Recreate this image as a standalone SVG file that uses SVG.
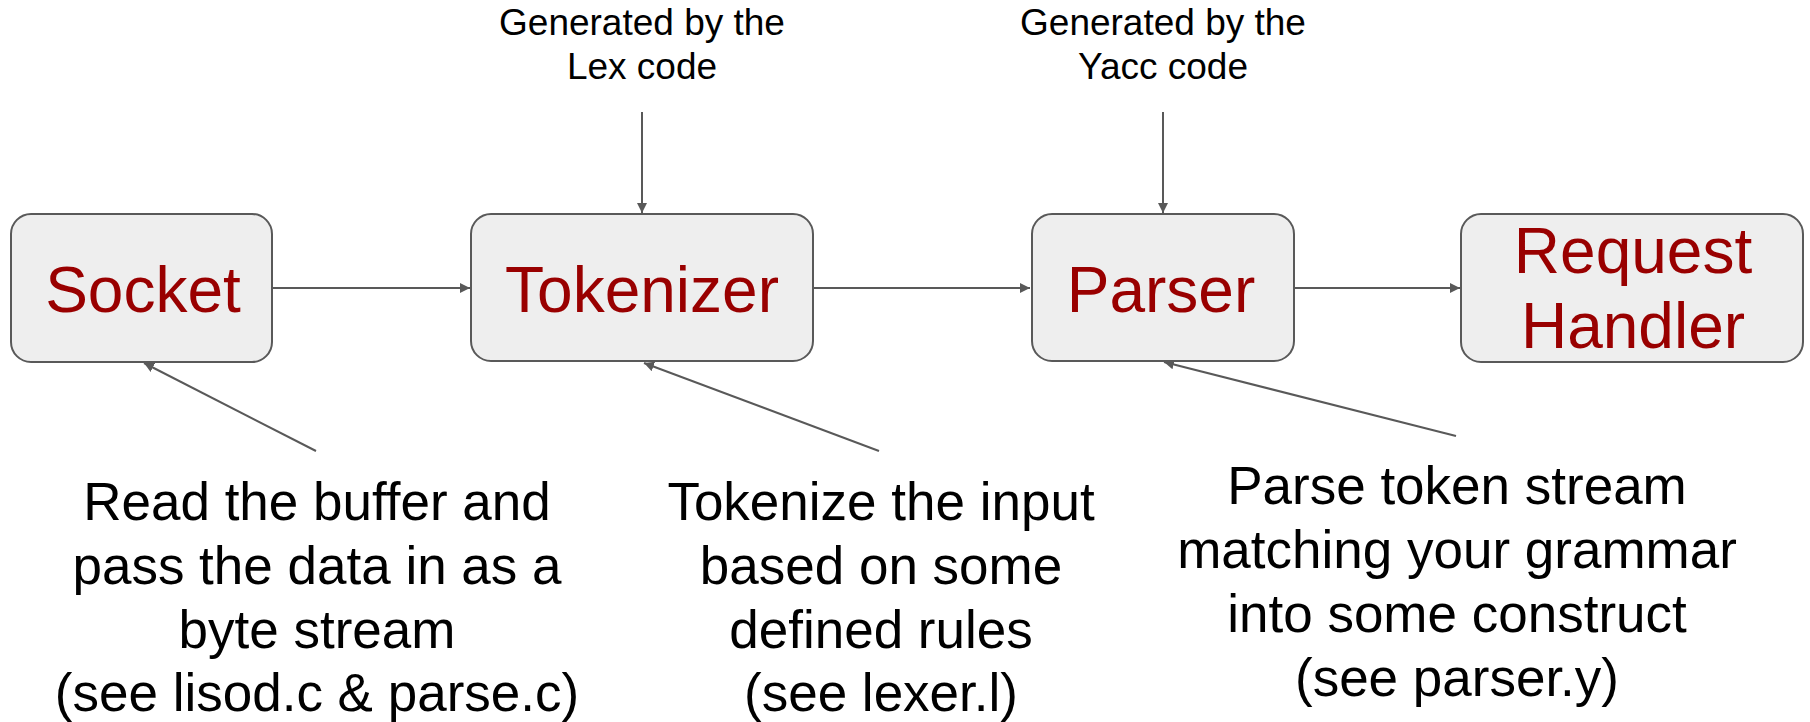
<svg xmlns="http://www.w3.org/2000/svg" width="1810" height="722" viewBox="0 0 1810 722">
<defs>
<marker id="ah" viewBox="0 0 10 10" refX="10" refY="5" markerWidth="5" markerHeight="5" orient="auto" markerUnits="strokeWidth">
<path d="M0,0 L10,5 L0,10 z" fill="#595959"/>
</marker>
<style>
.box{fill:#eeeeee;stroke:#595959;stroke-width:2}
.nl{font-family:"Liberation Sans",Arial,sans-serif;font-size:64px;fill:#990000;text-anchor:middle}
.sm{font-family:"Liberation Sans",Arial,sans-serif;font-size:37px;fill:#000;text-anchor:middle}
.big{font-family:"Liberation Sans",Arial,sans-serif;font-size:53px;fill:#000;text-anchor:middle}
.c{stroke:#595959;stroke-width:2;fill:none;marker-end:url(#ah)}
</style>
</defs>
<rect width="1810" height="722" fill="#ffffff"/>
<g id="connectors">
<line class="c" x1="272" y1="288" x2="470" y2="288"/>
<line class="c" x1="813" y1="288" x2="1030" y2="288"/>
<line class="c" x1="1294" y1="288" x2="1460" y2="288"/>
<line class="c" x1="642" y1="112" x2="642" y2="213"/>
<line class="c" x1="1163" y1="112" x2="1163" y2="213"/>
<line class="c" x1="316" y1="451" x2="144" y2="363"/>
<line class="c" x1="879" y1="451" x2="644" y2="363"/>
<line class="c" x1="1456" y1="436" x2="1164" y2="362"/>
</g>
<g id="socket">
<rect class="box" x="11" y="214" width="261" height="148" rx="20"/>
<text class="nl" x="143" y="312">Socket</text>
</g>
<g id="tokenizer">
<rect class="box" x="471" y="214" width="342" height="147" rx="20"/>
<text class="nl" x="642" y="312">Tokenizer</text>
</g>
<g id="parser">
<rect class="box" x="1032" y="214" width="262" height="147" rx="20"/>
<text class="nl" x="1161" y="312">Parser</text>
</g>
<g id="handler">
<rect class="box" x="1461" y="214" width="342" height="148" rx="20"/>
<text class="nl" x="1633" y="273">Request</text>
<text class="nl" x="1633" y="348">Handler</text>
</g>
<g id="lex-label">
<text class="sm" x="642" y="35">Generated by the</text>
<text class="sm" x="642" y="79">Lex code</text>
</g>
<g id="yacc-label">
<text class="sm" x="1163" y="35">Generated by the</text>
<text class="sm" x="1163" y="79">Yacc code</text>
</g>
<g id="socket-desc">
<text class="big" x="317" y="520">Read the buffer and</text>
<text class="big" x="317" y="584">pass the data in as a</text>
<text class="big" x="317" y="648">byte stream</text>
<text class="big" x="317" y="711">(see lisod.c &amp; parse.c)</text>
</g>
<g id="tokenizer-desc">
<text class="big" x="881" y="520">Tokenize the input</text>
<text class="big" x="881" y="584">based on some</text>
<text class="big" x="881" y="648">defined rules</text>
<text class="big" x="881" y="711">(see lexer.l)</text>
</g>
<g id="parser-desc">
<text class="big" x="1457" y="504">Parse token stream</text>
<text class="big" x="1457" y="568">matching your grammar</text>
<text class="big" x="1457" y="632">into some construct</text>
<text class="big" x="1457" y="696">(see parser.y)</text>
</g>
</svg>
